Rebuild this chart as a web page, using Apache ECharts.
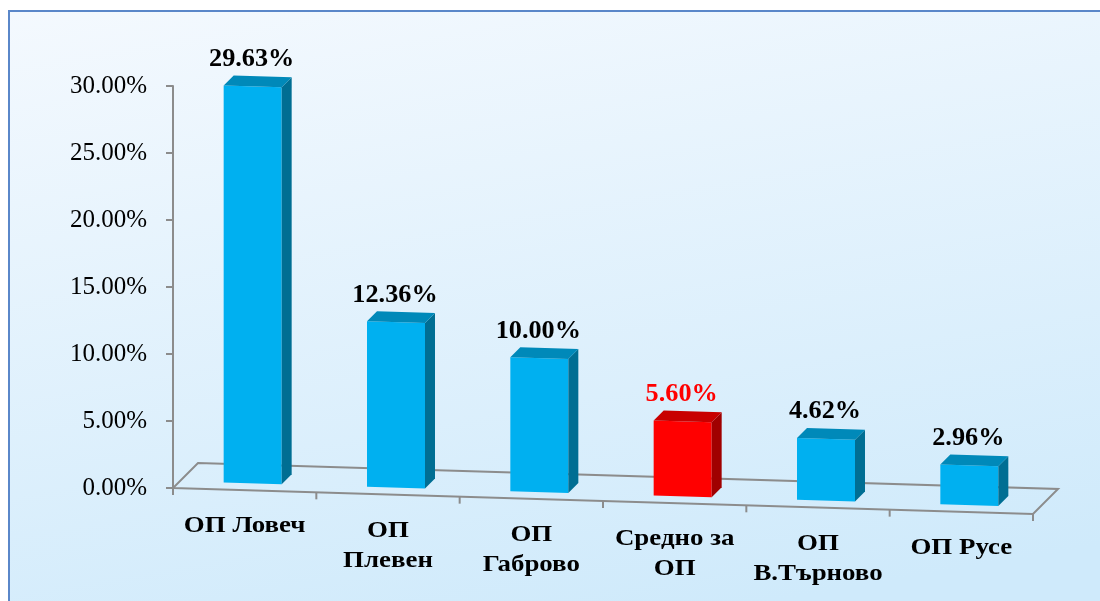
<!DOCTYPE html>
<html>
<head>
    <meta charset="utf-8">
    <title>ECharts</title>
    <script src="https://cdn.jsdelivr.net/npm/echarts@6/dist/echarts.min.js"></script>
    <style>
        html, body { margin: 0; padding: 0; background: #fff; }
    </style>
</head>
<body>
<div id="main" style="width: 1100px;height:601px;"></div>
<script type="text/javascript">
    // data
    var categories = ['ОП Ловеч', 'ОП\nПлевен', 'ОП\nГаброво', 'Средно за\nОП', 'ОП\nВ.Търново', 'ОП Русе'];
    var values = [29.63, 12.36, 10.00, 5.60, 4.62, 2.96];
    var avgIndex = 3; // the "average" bar is red

    var yMin = 0, yMax = 30, yStep = 5;

    // pseudo-3D look
    var SLOPE = 0.0302;      // floor tilt (px per px)
    var FLOOR_DEPTH = 25;    // back edge offset
    var BAR_W = 58;
    var BAR_D = 10;          // bar depth offset
    var BAR_SHIFT_X = 8, BAR_SHIFT_Y = -7;
    var SERIF = '"Liberation Serif", "Times New Roman", serif';

    var blue = { front: '#00B0F0', side: '#006E93', top: '#0089B9' };
    var red = { front: '#FF0000', side: '#A00000', top: '#C80000' };

    var myChart = echarts.init(document.getElementById('main'));

    function renderFloor(params, api) {
        var cs = params.coordSys;
        var gx = cs.x, gw = cs.width;
        var y0 = api.coord([0, 0])[1];
        var band = api.size([1, 0])[0];
        var ch = [];
        ch.push({
            type: 'polygon',
            shape: { points: [
                [gx, y0], [gx + gw, y0 + gw * SLOPE],
                [gx + gw + FLOOR_DEPTH, y0 + gw * SLOPE - FLOOR_DEPTH],
                [gx + FLOOR_DEPTH, y0 - FLOOR_DEPTH]
            ] },
            style: { fill: 'none', stroke: '#8C8C8C', lineWidth: 2 }
        });
        for (var i = 0; i <= categories.length; i++) {
            var tx = gx + i * band;
            var ty = y0 + (tx - gx) * SLOPE;
            ch.push({
                type: 'line',
                shape: { x1: tx, y1: ty, x2: tx, y2: ty + 7 },
                style: { stroke: '#8C8C8C', lineWidth: 2 }
            });
        }
        // category labels follow the floor tilt
        for (var j = 0; j < categories.length; j++) {
            var cx = gx + (j + 0.5) * band;
            ch.push({
                type: 'text',
                x: cx,
                y: y0 + (cx - gx) * SLOPE + 21,
                scaleX: 1.12,
                style: {
                    x: 0, y: 0,
                    text: categories[j],
                    fill: '#000',
                    fontFamily: SERIF,
                    fontWeight: 'bold',
                    fontSize: 24,
                    lineHeight: 30,
                    align: 'center',
                    verticalAlign: 'top'
                }
            });
        }
        return { type: 'group', children: ch };
    }

    function renderBar(params, api) {
        var cs = params.coordSys;
        var gx = cs.x;
        var i = api.value(0), v = api.value(1);
        var base = api.coord([i, 0]);
        var h = base[1] - api.coord([i, v])[1];
        var xc = base[0] + BAR_SHIFT_X;
        var fl = xc - BAR_W / 2, fr = xc + BAR_W / 2;
        function b(x) { return base[1] + (x - gx) * SLOPE + BAR_SHIFT_Y; }
        function t(x) { return b(x) - h; }
        var c = params.dataIndex === avgIndex ? red : blue;
        return {
            type: 'group',
            children: [
                { type: 'polygon', shape: { points: [[fl, b(fl)], [fr, b(fr)], [fr, t(fr)], [fl, t(fl)]] },
                  style: { fill: c.front } },
                { type: 'polygon', shape: { points: [[fr, b(fr)], [fr + BAR_D, b(fr) - BAR_D], [fr + BAR_D, t(fr) - BAR_D], [fr, t(fr)]] },
                  style: { fill: c.side } },
                { type: 'polygon', shape: { points: [[fl, t(fl)], [fr, t(fr)], [fr + BAR_D, t(fr) - BAR_D], [fl + BAR_D, t(fl) - BAR_D]] },
                  style: { fill: c.top } },
                { type: 'text', x: xc - 1, y: t(xc) - 27, scaleX: 1.05,
                  style: {
                      x: 0, y: 0,
                      text: v.toFixed(2) + '%',
                      fill: params.dataIndex === avgIndex ? '#FF0000' : '#000',
                      fontFamily: SERIF, fontWeight: 'bold', fontSize: 25,
                      align: 'center', verticalAlign: 'middle'
                  } }
            ]
        };
    }

    myChart.setOption({
        animation: false,
        graphic: [{
            type: 'rect',
            z: -100,
            shape: { x: 9, y: 11, width: 1200, height: 700 },
            style: {
                fill: new echarts.graphic.LinearGradient(0, 0, 0.1, 1, [
                    { offset: 0, color: '#F4F9FE' },
                    { offset: 1, color: '#CFEAFB' }
                ]),
                stroke: '#5A87C9',
                lineWidth: 2
            }
        }],
        grid: {
            left: 173,
            right: 67,
            top: 86,
            bottom: 113
        },
        xAxis: {
            type: 'category',
            data: categories,
            axisLine: { show: false },
            axisTick: { show: false },
            axisLabel: { show: false }
        },
        yAxis: {
            type: 'value',
            min: yMin,
            max: yMax,
            interval: yStep,
            axisLine: { show: true, lineStyle: { color: '#8C8C8C', width: 2 } },
            axisTick: { show: true, length: 7, lineStyle: { color: '#8C8C8C', width: 2 } },
            splitLine: { show: false },
            axisLabel: {
                margin: 26,
                color: '#000',
                fontFamily: SERIF,
                fontSize: 25,
                formatter: function (v) { return v.toFixed(2) + '%'; }
            }
        },
        series: [
            {
                type: 'custom',
                name: 'floor',
                z: 1,
                renderItem: renderFloor,
                data: [[0, 0]]
            },
            {
                type: 'custom',
                name: 'bars',
                z: 2,
                renderItem: renderBar,
                encode: { x: 0, y: 1 },
                data: values.map(function (v, i) { return [i, v]; })
            }
        ]
    });
</script>
</body>
</html>
